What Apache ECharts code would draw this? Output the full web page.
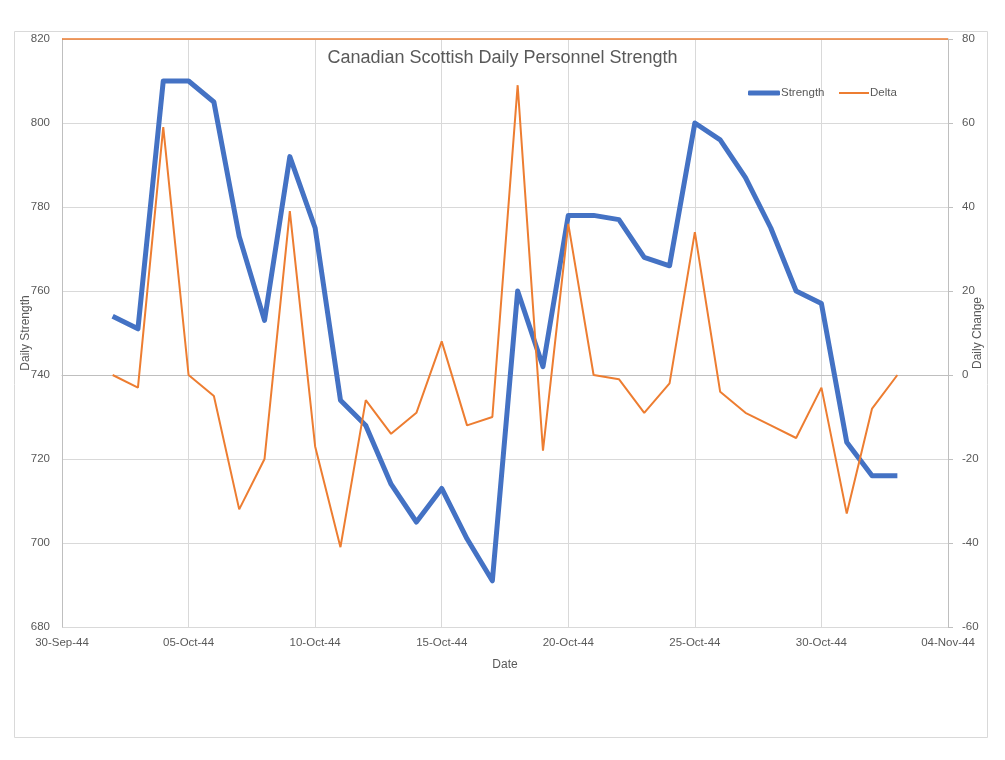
<!DOCTYPE html>
<html>
<head>
<meta charset="utf-8">
<script src="https://cdn.jsdelivr.net/npm/echarts@6/dist/echarts.min.js"></script>
<style>html,body{margin:0;padding:0;background:#fff;}#c{width:1005px;height:760px;}</style>
</head>
<body>
<div id="c"></div>
<script>
const dates = ['02-Oct-44','03-Oct-44','04-Oct-44','05-Oct-44','06-Oct-44','07-Oct-44','08-Oct-44','09-Oct-44','10-Oct-44','11-Oct-44','12-Oct-44','13-Oct-44','14-Oct-44','15-Oct-44','16-Oct-44','17-Oct-44','18-Oct-44','19-Oct-44','20-Oct-44','21-Oct-44','22-Oct-44','23-Oct-44','24-Oct-44','25-Oct-44','26-Oct-44','27-Oct-44','28-Oct-44','29-Oct-44','30-Oct-44','31-Oct-44','01-Nov-44','02-Nov-44'];
const strength = [754,751,810,810,805,773,753,792,775,734,728,714,705,713,701,691,760,742,778,778,777,768,766,800,796,787,775,760,757,724,716,716];
const delta = [0,-3,59,0,-5,-32,-20,39,-17,-41,-6,-14,-9,8,-12,-10,69,-18,36,0,-1,-9,-2,34,-4,-9,-12,-15,-3,-33,-8,0];
const leftTicks = [680,700,720,740,760,780,800,820];
const rightTicks = [-60,-40,-20,0,20,40,60,80];
const xStart = '30-Sep-44';
const xEnd = '04-Nov-44';

const MONTHS = ['Jan','Feb','Mar','Apr','May','Jun','Jul','Aug','Sep','Oct','Nov','Dec'];
function parseD(s){
  const p = s.split('-');
  return Date.UTC(1900 + (+p[2]), MONTHS.indexOf(p[1]), +p[0]);
}
const DAY = 86400000;
const base = parseD(xStart);
const toDay = s => Math.round((parseD(s) - base) / DAY);
function fmt(v){
  const d = new Date(base + v * DAY);
  const dd = String(d.getUTCDate()).padStart(2,'0');
  return dd + '-' + MONTHS[d.getUTCMonth()] + '-' + String(d.getUTCFullYear()).slice(2);
}

const FONT = 'Liberation Sans';
const LC = '#595959';
const chart = echarts.init(document.getElementById('c'));
chart.setOption({
  animation: false,
  textStyle: {fontFamily: FONT},
  title: {
    text: 'Canadian Scottish Daily Personnel Strength',
    left: 'center', top: 44,
    textStyle: {fontFamily: FONT, fontSize: 18, fontWeight: 'normal', color: LC}
  },
  graphic: [{
    type: 'rect', silent: true, z: -10,
    shape: {x: 14.5, y: 31.5, width: 973, height: 706},
    style: {fill: 'none', stroke: '#d9d9d9', lineWidth: 1}
  }],
  legend: [{
    left: 748, top: 87, padding: 0,
    itemWidth: 32, itemHeight: 5, icon: 'roundRect',
    textStyle: {fontFamily: FONT, fontSize: 11.5, color: LC, padding: [0,0,0,-4]},
    data: ['Strength']
  }, {
    left: 839, top: 87, padding: 0,
    itemWidth: 30, itemHeight: 2, icon: 'rect',
    textStyle: {fontFamily: FONT, fontSize: 11.5, color: LC, padding: [0,0,0,-4]},
    data: ['Delta']
  }],
  grid: {left: 62, right: 57, top: 39, bottom: 133, outerBoundsMode: 'none', containLabel: false},
  xAxis: [{
    type: 'value', min: toDay(xStart), max: toDay(xEnd), interval: 5,
    name: 'Date', nameLocation: 'middle', nameGap: 32, nameMoveOverlap: false,
    nameTextStyle: {fontFamily: FONT, fontSize: 12, color: LC},
    axisLine: {show: true, lineStyle: {color: '#bfbfbf'}},
    axisTick: {show: false},
    axisLabel: {formatter: fmt, color: LC, fontSize: 11.5, margin: 10},
    splitLine: {show: true, lineStyle: {color: '#d9d9d9'}}
  }],
  yAxis: [{
    type: 'value', min: leftTicks[0], max: leftTicks[leftTicks.length-1], interval: 20,
    name: 'Daily Strength', nameLocation: 'middle', nameGap: 30, nameRotate: 90, nameMoveOverlap: false,
    nameTextStyle: {fontFamily: FONT, fontSize: 12, color: LC},
    axisLine: {show: true, lineStyle: {color: '#bfbfbf'}},
    axisTick: {show: false},
    axisLabel: {color: LC, fontSize: 11.5, margin: 12},
    splitLine: {show: true, lineStyle: {color: '#d9d9d9'}}
  }, {
    type: 'value', min: rightTicks[0], max: rightTicks[rightTicks.length-1], interval: 20,
    name: 'Daily Change', nameLocation: 'middle', nameGap: 24, nameRotate: 90, nameMoveOverlap: false,
    nameTextStyle: {fontFamily: FONT, fontSize: 12, color: LC},
    axisLine: {show: true, lineStyle: {color: '#bfbfbf'}},
    axisTick: {show: true, length: 5, lineStyle: {color: '#bfbfbf'}},
    axisLabel: {color: LC, fontSize: 11.5, margin: 14},
    splitLine: {show: false}
  }],
  series: [{
    name: 'Strength', type: 'line', xAxisIndex: 0, yAxisIndex: 0,
    showSymbol: false, symbol: 'none',
    lineStyle: {color: '#4472C4', width: 5, join: 'round'},
    itemStyle: {color: '#4472C4'},
    z: 3,
    data: dates.map((d,i) => [toDay(d), strength[i]])
  }, {
    name: 'Delta', type: 'line', xAxisIndex: 0, yAxisIndex: 1,
    showSymbol: false, symbol: 'none', clip: false,
    lineStyle: {color: '#ED7D31', width: 2},
    itemStyle: {color: '#ED7D31'},
    z: 4,
    markLine: {
      silent: true, symbol: ['none','none'], label: {show: false},
      lineStyle: {color: '#ED7D31', type: 'solid', width: 1.5, opacity: 1},
      emphasis: {disabled: true},
      data: [{yAxis: rightTicks[rightTicks.length-1]}]
    },
    data: dates.map((d,i) => [toDay(d), delta[i]])
  }]
});
</script>
</body>
</html>
